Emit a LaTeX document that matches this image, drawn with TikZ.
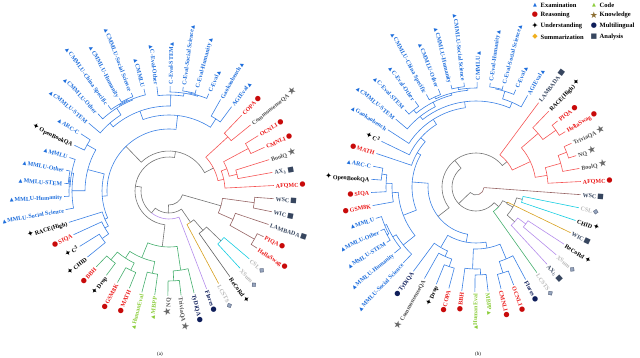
\documentclass[tikz,border=0pt]{standalone}
\usepackage{fontspec}
\setmainfont{Liberation Serif}
\newfontfamily\symf{DejaVu Sans}
\definecolor{bblue}{RGB}{58,128,228}
\definecolor{bred}{RGB}{245,85,85}
\definecolor{bgray}{RGB}{115,115,115}
\definecolor{bgray2}{RGB}{95,95,95}
\definecolor{bgreen}{RGB}{70,175,110}
\definecolor{bpurple}{RGB}{180,140,235}
\definecolor{bgold}{RGB}{215,160,30}
\definecolor{bcyan}{RGB}{20,205,225}
\definecolor{bbrown}{RGB}{150,100,100}
\definecolor{txE}{RGB}{30,110,220}
\definecolor{txR}{RGB}{235,25,25}
\definecolor{txU}{RGB}{0,0,0}
\definecolor{txK}{RGB}{80,80,80}
\definecolor{txM}{RGB}{15,30,90}
\definecolor{txC}{RGB}{140,205,60}
\definecolor{txS}{RGB}{185,185,185}
\definecolor{txA}{RGB}{55,70,95}
\definecolor{mkRc}{RGB}{200,10,10}
\definecolor{mkKc}{RGB}{105,105,105}
\definecolor{mkSfill}{RGB}{150,165,190}
\definecolor{mkSline}{RGB}{60,70,95}
\definecolor{legS}{RGB}{240,175,30}
\definecolor{legK}{RGB}{140,110,50}
\newcommand\symsz[1]{\symf\fontsize{#1}{#1}\selectfont}
\newcommand\mkE{{\symsz{5}\color{txE}▲}}
\newcommand\mkR{{\symsz{7}\color{mkRc}●}}
\newcommand\mkU{{\symsz{8}\color{black}✦}}
\newcommand\mkK{{\symsz{10}\color{mkKc}★}}
\newcommand\mkM{{\symsz{7}\color{txM}●}}
\newcommand\mkC{{\symsz{5}\color{txC}▲}}
\newcommand\mkS{{\symsz{7}\rlap{\color{mkSfill}◆}\color{mkSline}◇}}
\newcommand\mkA{{\symsz{7}\color{txA}■}}
\newcommand\mkSleg{{\symsz{7}\color{legS}◆}}
\newcommand\mkKleg{{\symsz{9}\color{legK}★}}
\newcommand\myaoff{3}
\newcommand\myRleaf{105}
\newcommand\myRlab{106}
\newcommand\mylf[3]{%
  \pgfmathsetmacro\myA{\myaoff+7.2*#2}%
  \expandafter\xdef\csname nA@#1\endcsname{\myA}%
  \expandafter\xdef\csname nR@#1\endcsname{\myRleaf}%
  \expandafter\xdef\csname nC@#1\endcsname{#3}}
\newcommand\myedge[2]{%
  \edef\myPA{\csname nA@#1\endcsname}\edef\myPR{\csname nR@#1\endcsname}%
  \edef\myCA{\csname nA@#2\endcsname}\edef\myCR{\csname nR@#2\endcsname}%
  \edef\myCC{\csname nC@#2\endcsname}%
  \draw[br,draw=\myCC] (\myPA:\myPR) arc[start angle=\myPA, end angle=\myCA, radius=\myPR pt] -- (\myCA:\myCR);}
\newcommand\mymrg[5]{%
  \edef\myX{\csname nA@#2\endcsname}\edef\myY{\csname nA@#3\endcsname}%
  \pgfmathsetmacro\myA{(\myX+\myY)/2}%
  \expandafter\xdef\csname nA@#1\endcsname{\myA}%
  \expandafter\xdef\csname nR@#1\endcsname{#4}%
  \expandafter\xdef\csname nC@#1\endcsname{#5}%
  \myedge{#1}{#2}\myedge{#1}{#3}}
\newcommand\mylab[4]{%
  \pgfmathsetmacro\myth{\myaoff+7.2*#2}%
  \pgfmathtruncatemacro\myleft{and(\myth>90,\myth<270)}%
  \ifnum\myleft=1
    \pgfmathsetmacro\myrot{\myth-180}%
    \node[lbl,anchor=east,rotate=\myrot,text=tx#4] (#1#2) at (\myth:\myRlab) {\csname mk#4\endcsname\,#3};%
  \else
    \node[lbl,anchor=west,rotate=\myth,text=tx#4] (#1#2) at (\myth:\myRlab) {#3\,\csname mk#4\endcsname};%
  \fi}
\begin{document}
\begin{tikzpicture}[x=1pt,y=1pt,
  br/.style={line width=0.6pt},
  lbl/.style={font=\fontsize{6}{6}\selectfont\bfseries, inner sep=0.8pt, text height=1.45ex, text depth=0.3ex},
  leg/.style={font=\fontsize{6.5}{6.5}\selectfont\bfseries, anchor=west, inner sep=0.5pt},
  legm/.style={inner sep=0pt},
  captxt/.style={font=\fontsize{5}{5}\selectfont, inner sep=0pt}]
\useasboundingbox (0,0) rectangle (640,357);
% ================= (a) =================
\begin{scope}[shift={(169,166)}]
\foreach \i in {0,...,6} {\mylf{a\i}{\i}{bred}}
\foreach \i in {7,...,30} {\mylf{a\i}{\i}{bblue}}
\foreach \i in {31,...,39} {\mylf{a\i}{\i}{bgreen}}
\mylf{a40}{40}{bpurple}\mylf{a41}{41}{bgold}\mylf{a42}{42}{bgray2}
\mylf{a43}{43}{bcyan}\mylf{a44}{44}{bcyan}
\foreach \i in {45,...,49} {\mylf{a\i}{\i}{bbrown}}
% red
\mymrg{aR1}{a3}{a4}{90}{bred}
\mymrg{aR2}{a1}{a2}{70}{bred}
\mymrg{aR3}{a5}{a6}{80}{bred}
\mymrg{aR4}{aR1}{aR2}{62}{bred}
\mymrg{aR5}{a0}{aR4}{56}{bred}
\mymrg{aR6}{aR5}{aR3}{50}{bgray}
% blue
\mymrg{aB1}{a10}{a11}{101}{bblue}
\mymrg{aB2}{a9}{aB1}{100}{bblue}
\mymrg{aB3}{aB2}{a12}{99}{bblue}
\mymrg{aB4}{aB3}{a13}{96}{bblue}
\mymrg{aB5}{a15}{a16}{101}{bblue}
\mymrg{aB6}{aB5}{a17}{100}{bblue}
\mymrg{aB7}{a14}{aB6}{99}{bblue}
\mymrg{aB8}{aB7}{a18}{98}{bblue}
\mymrg{aB9}{aB8}{a19}{90}{bblue}
\mymrg{aB10}{aB9}{aB4}{85}{bblue}
\mymrg{aB11}{a7}{a8}{86}{bblue}
\mymrg{aB12}{aB10}{aB11}{76}{bblue}
\mymrg{aB13}{a20}{a21}{94}{bblue}
\mymrg{aB14}{a23}{a24}{101}{bblue}
\mymrg{aB15}{aB14}{a25}{100}{bblue}
\mymrg{aB16}{a22}{aB15}{99}{bblue}
\mymrg{aB17}{aB16}{a26}{97}{bblue}
\mymrg{aB18}{aB13}{aB17}{84}{bblue}
\mymrg{aB19}{a29}{a30}{82}{bblue}
\mymrg{aB20}{a28}{aB19}{74}{bblue}
\mymrg{aB21}{a27}{aB20}{70}{bblue}
\mymrg{aB22}{aB18}{aB21}{67}{bblue}
\mymrg{aB23}{aB12}{aB22}{62}{bgray}
% green
\mymrg{aG1}{a31}{a32}{90}{bgreen}
\mymrg{aG2}{a33}{a34}{88}{bgreen}
\mymrg{aG3}{aG1}{aG2}{80}{bgreen}
\mymrg{aG4}{a35}{a36}{84}{bgreen}
\mymrg{aG5}{aG3}{aG4}{72}{bgreen}
\mymrg{aG6}{a37}{a38}{90}{bgreen}
\mymrg{aG7}{aG6}{a39}{80}{bgreen}
\mymrg{aG8}{aG5}{aG7}{56}{bgray}
% cyan / others
\mymrg{aC1}{a43}{a44}{72}{bgray}
\mymrg{aX1}{a42}{aC1}{52}{bgray}
\mymrg{aX2}{a41}{aX1}{38}{bgray}
% brown
\mymrg{aW1}{a48}{a49}{86}{bbrown}
\mymrg{aW2}{a45}{a46}{98}{bbrown}
\mymrg{aW3}{a47}{aW2}{70}{bbrown}
\mymrg{aW4}{aW3}{aW1}{54}{bgray}
% backbone
\mymrg{aK1}{aR6}{aB23}{40}{bgray}
\mymrg{aK2}{aK1}{aG8}{34}{bgray}
\mymrg{aK3}{aK2}{a40}{28}{bgray}
\mymrg{aK4}{aK3}{aX2}{22}{bgray}
\mymrg{aK5}{aK4}{aW4}{14}{bgray}
% labels
\mylab{la}{0}{AFQMC}{R}
\mylab{la}{1}{AX$_b$}{A}
\mylab{la}{2}{BoolQ}{K}
\mylab{la}{3}{CMNLI}{R}
\mylab{la}{4}{OCNLI}{R}
\mylab{la}{5}{CommonsenseQA}{K}
\mylab{la}{6}{COPA}{R}
\mylab{la}{7}{AGIEval}{E}
\mylab{la}{8}{Gaokaobench}{E}
\mylab{la}{9}{C-Eval}{E}
\mylab{la}{10}{C-Eval-Humanity}{E}
\mylab{la}{11}{C-Eval-Social Science}{E}
\mylab{la}{12}{C-Eval-STEM}{E}
\mylab{la}{13}{C-Eval-Other}{E}
\mylab{la}{14}{CMMLU}{E}
\mylab{la}{15}{CMMLU-Social Science}{E}
\mylab{la}{16}{CMMLU-Humanity}{E}
\mylab{la}{17}{CMMLU-China Specific}{E}
\mylab{la}{18}{CMMLU-Other}{E}
\mylab{la}{19}{CMMLU-STEM}{E}
\mylab{la}{20}{ARC-C}{E}
\mylab{la}{21}{OpenBookQA}{U}
\mylab{la}{22}{MMLU}{E}
\mylab{la}{23}{MMLU-Other}{E}
\mylab{la}{24}{MMLU-STEM}{E}
\mylab{la}{25}{MMLU-Humanity}{E}
\mylab{la}{26}{MMLU-Social Science}{E}
\mylab{la}{27}{RACE(High)}{U}
\mylab{la}{28}{SIQA}{R}
\mylab{la}{29}{C\textsuperscript{3}}{U}
\mylab{la}{30}{CHID}{U}
\mylab{la}{31}{BBH}{R}
\mylab{la}{32}{Drop}{U}
\mylab{la}{33}{GSM8K}{R}
\mylab{la}{34}{MATH}{R}
\mylab{la}{35}{HumanEval}{C}
\mylab{la}{36}{MBPP}{C}
\mylab{la}{37}{NQ}{K}
\mylab{la}{38}{TriviaQA}{K}
\mylab{la}{39}{TyDiQA}{M}
\mylab{la}{40}{Flores}{M}
\mylab{la}{41}{LCSTS}{S}
\mylab{la}{42}{ReCoRd}{U}
\mylab{la}{43}{XSum}{S}
\mylab{la}{44}{CSL}{S}
\mylab{la}{45}{HellaSwag}{R}
\mylab{la}{46}{PIQA}{R}
\mylab{la}{47}{LAMBADA}{A}
\mylab{la}{48}{WIC}{A}
\mylab{la}{49}{WSC}{A}
\end{scope}
% ================= (b) =================
\begin{scope}[shift={(476,170)}]
\foreach \i in {0,...,7} {\mylf{b\i}{\i}{bred}}
\foreach \i in {8,...,41} {\mylf{b\i}{\i}{bblue}}
\mylf{b42}{42}{bgreen}
\foreach \i in {43,44,45} {\mylf{b\i}{\i}{bpurple}}
\mylf{b46}{46}{bgold}
\mylf{b47}{47}{bcyan}\mylf{b48}{48}{bcyan}
\mylf{b49}{49}{bbrown}
% red
\mymrg{bR1}{b2}{b3}{97}{bred}
\mymrg{bR2}{b1}{bR1}{88}{bred}
\mymrg{bR3}{b0}{bR2}{72}{bred}
\mymrg{bR4}{b4}{b5}{98}{bred}
\mymrg{bR5}{bR4}{b6}{82}{bred}
\mymrg{bR6}{bR3}{bR5}{60}{bred}
\mymrg{bR7}{bR6}{b7}{40}{bgray}
% blue
\mymrg{bB1}{b10}{b11}{101}{bblue}
\mymrg{bB2}{b9}{bB1}{100}{bblue}
\mymrg{bB3}{b8}{bB2}{92}{bblue}
\mymrg{bB4}{b13}{b14}{101}{bblue}
\mymrg{bB5}{b12}{bB4}{99}{bblue}
\mymrg{bB6}{b15}{b16}{99}{bblue}
\mymrg{bB7}{bB5}{bB6}{97}{bblue}
\mymrg{bB8}{b17}{b18}{99}{bblue}
\mymrg{bB9}{bB7}{bB8}{95}{bblue}
\mymrg{bB10}{bB9}{b19}{90}{bblue}
\mymrg{bB11}{bB3}{bB10}{86}{bblue}
\mymrg{bB12}{bB11}{b20}{80}{bblue}
\mymrg{bB13}{bB12}{b21}{74}{bblue}
\mymrg{bB14}{bB13}{b22}{68}{bblue}
\mymrg{bB15}{b23}{b24}{95}{bblue}
\mymrg{bB16}{bB15}{b25}{90}{bblue}
\mymrg{bB17}{bB16}{b26}{84}{bblue}
\mymrg{bB18}{b28}{b29}{101}{bblue}
\mymrg{bB19}{b27}{bB18}{99}{bblue}
\mymrg{bB20}{bB19}{b30}{97}{bblue}
\mymrg{bB21}{bB20}{b31}{93}{bblue}
\mymrg{bB22}{bB17}{bB21}{78}{bblue}
\mymrg{bB23}{bB14}{bB22}{64}{bblue}
\mymrg{bB24}{b34}{b35}{84}{bblue}
\mymrg{bB25}{b33}{bB24}{76}{bblue}
\mymrg{bB26}{b32}{bB25}{70}{bblue}
\mymrg{bB27}{b37}{b38}{88}{bblue}
\mymrg{bB28}{b36}{bB27}{82}{bblue}
\mymrg{bB29}{b39}{b40}{90}{bblue}
\mymrg{bB30}{bB29}{b41}{78}{bblue}
\mymrg{bB31}{bB28}{bB30}{62}{bblue}
\mymrg{bB32}{bB26}{bB31}{56}{bblue}
\mymrg{bB33}{bB23}{bB32}{48}{bgray}
% others
\mymrg{bP1}{b44}{b45}{62}{bpurple}
\mymrg{bP2}{b43}{bP1}{52}{bgray}
\mymrg{bC1}{b47}{b48}{48}{bgray}
\mymrg{bQ1}{bC1}{bP2}{42}{bgray}
\mymrg{bQ2}{b46}{bQ1}{35}{bgray}
\mymrg{bQ3}{b42}{bQ2}{30}{bgray}
% backbone
\mymrg{bK1}{bR7}{bB33}{34}{bgray}
\mymrg{bK2}{bK1}{bQ3}{24}{bgray}
\mymrg{bK3}{bK2}{b49}{8}{bgray}
% labels
\mylab{lb}{0}{AFQMC}{R}
\mylab{lb}{1}{BoolQ}{K}
\mylab{lb}{2}{NQ}{K}
\mylab{lb}{3}{TriviaQA}{K}
\mylab{lb}{4}{HellaSwag}{R}
\mylab{lb}{5}{PIQA}{R}
\mylab{lb}{6}{RACE(High)}{U}
\mylab{lb}{7}{LAMBADA}{A}
\mylab{lb}{8}{AGIEval}{E}
\mylab{lb}{9}{C-Eval}{E}
\mylab{lb}{10}{C-Eval-Social Science}{E}
\mylab{lb}{11}{C-Eval-Humanity}{E}
\mylab{lb}{12}{CMMLU}{E}
\mylab{lb}{13}{CMMLU-Social Science}{E}
\mylab{lb}{14}{CMMLU-Humanity}{E}
\mylab{lb}{15}{CMMLU-Other}{E}
\mylab{lb}{16}{CMMLU-China Specific}{E}
\mylab{lb}{17}{C-Eval-Other}{E}
\mylab{lb}{18}{C-Eval-STEM}{E}
\mylab{lb}{19}{CMMLU-STEM}{E}
\mylab{lb}{20}{Gaokaobench}{E}
\mylab{lb}{21}{C\textsuperscript{3}}{U}
\mylab{lb}{22}{MATH}{R}
\mylab{lb}{23}{ARC-C}{E}
\mylab{lb}{24}{OpenBookQA}{U}
\mylab{lb}{25}{SIQA}{R}
\mylab{lb}{26}{GSM8K}{R}
\mylab{lb}{27}{MMLU}{E}
\mylab{lb}{28}{MMLU-Other}{E}
\mylab{lb}{29}{MMLU-STEM}{E}
\mylab{lb}{30}{MMLU-Humanity}{E}
\mylab{lb}{31}{MMLU-Social Science}{E}
\mylab{lb}{32}{TyDiQA}{M}
\mylab{lb}{33}{CommonsenseQA}{K}
\mylab{lb}{34}{Drop}{U}
\mylab{lb}{35}{COPA}{R}
\mylab{lb}{36}{BBH}{R}
\mylab{lb}{37}{HumanEval}{C}
\mylab{lb}{38}{MBPP}{C}
\mylab{lb}{39}{CMNLI}{R}
\mylab{lb}{40}{OCNLI}{R}
\mylab{lb}{41}{Flores}{M}
\mylab{lb}{42}{LCSTS}{S}
\mylab{lb}{43}{AX$_b$}{A}
\mylab{lb}{44}{XSum}{S}
\mylab{lb}{45}{ReCoRd}{U}
\mylab{lb}{46}{WIC}{A}
\mylab{lb}{47}{CHID}{U}
\mylab{lb}{48}{CSL}{S}
\mylab{lb}{49}{WSC}{A}
\end{scope}
% ================= legend =================
\node[legm] (lgm1) at (535,352) {\mkE};
\node[leg] (lg1) at (540,352) {Examination};
\node[legm] (lgm2) at (535,342) {\mkR};
\node[leg] (lg2) at (540,342) {Reasoning};
\node[legm] (lgm3) at (535,331) {\mkU};
\node[leg] (lg3) at (540,331) {Understanding};
\node[legm] (lgm4) at (535,320) {\mkSleg};
\node[leg] (lg4) at (540,320) {Summarization};
\node[legm] (lgm5) at (594,352) {\mkC};
\node[leg] (lg5) at (599,352) {Code};
\node[legm] (lgm6) at (594,342) {\mkKleg};
\node[leg] (lg6) at (599,342) {Knowledge};
\node[legm] (lgm7) at (594,331) {\mkM};
\node[leg] (lg7) at (599,331) {Multilingual};
\node[legm] (lgm8) at (594,320) {\mkA};
\node[leg] (lg8) at (599,320) {Analysis};
% captions
\node[captxt] (capa) at (160,3) {(a)};
\node[captxt] (capb) at (478,3) {(b)};
\end{tikzpicture}
\end{document}
